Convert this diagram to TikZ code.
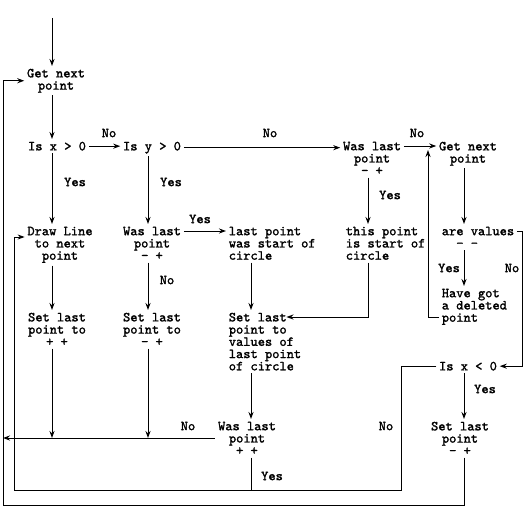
\documentclass[tikz,border=0pt]{standalone}
\usepackage{fontspec}
\setmonofont[FakeBold=1.6]{lmmono10-regular.otf}
\usetikzlibrary{arrows.meta}
\tikzset{
  box/.style={
    font=\ttfamily\fontsize{9.8}{8.7}\selectfont,
    align=center,
    anchor=north,
    inner sep=0pt,
    outer sep=2pt
  },
  lbox/.style={
    box,
    align=left,
    anchor=north west
  },
  lab/.style={
    font=\ttfamily\fontsize{9.8}{8.7}\selectfont,
    inner sep=0pt
  },
  flow/.style={
    line width=0.7pt,
    -{Stealth[length=5pt,width=3.6pt]}
  },
  wire/.style={
    line width=0.7pt
  }
}

\begin{document}
\begin{tikzpicture}[x=0.025cm,y=-0.025cm]
    \useasboundingbox (0,0) rectangle (522,524);
    % columns and rows
    \coordinate (c1) at (52,0);
    \coordinate (c2) at (148,0);
    \coordinate (c3) at (251,0);
    \coordinate (c4) at (368,0);
    \coordinate (c5) at (464,0);
    \coordinate (r1) at (0,146);
    \coordinate (r2) at (0,231);
    \coordinate (r2b) at (0,237);
    \coordinate (r3) at (0,317);
    \coordinate (r4) at (0,438);
    \coordinate (entry) at (52,18);
    \coordinate (inner) at (14,490);
    \coordinate (outer) at (3,505);
    % boxes
    \node[box] (getpt) at (56,66) {Get next\\point};
    \node[box] (isxpos) at (57,139) {Is x > 0};
    \node[box] (isypos) at (152,139) {Is y > 0};
    \node[box] (lastA) at (372,139) {Was last\\point\\- +};
    \node[box] (getnew) at (468,139) {Get next\\point};
    \node[box] (drawln) at (60,224) {Draw Line\\to next\\point};
    \node[box] (lastB) at (152,224) {Was last\\point\\- +};
    \node[lbox] (wasstart) at (226,224) {last point\\was start of\\circle};
    \node[lbox] (isstart) at (343,224) {this point\\is start of\\circle};
    \node[lbox] (values) at (439,224) {are values\\\phantom{xx}- -};
    \node[lbox] (deleted) at (439,286) {Have got\\a deleted\\point};
    \node[box] (setpp) at (57,310) {Set last\\point to\\+ +};
    \node[box] (setmp) at (152,310) {Set last\\point to\\- +};
    \node[lbox] (setcirc) at (226,310) {Set last\\point to\\values of\\last point\\of circle};
    \node[box] (isxneg) at (468,359) {Is x < 0};
    \node[box] (lastpp) at (247,419) {Was last\\point\\+ +};
    \node[box] (setneg) at (460,419) {Set last\\point\\- +};
    % labels
    \node[lab] (n1) at (109,133) {No};
    \node[lab] (n2) at (270,133) {No};
    \node[lab] (n3) at (417,133) {No};
    \node[lab] (y1) at (75,182) {Yes};
    \node[lab] (y2) at (171,182) {Yes};
    \node[lab] (y3) at (390,195) {Yes};
    \node[lab] (y4) at (200,219) {Yes};
    \node[lab] (n4) at (167,280) {No};
    \node[lab] (y5) at (449,268) {Yes};
    \node[lab] (n5) at (512,268) {No};
    \node[lab] (y6) at (485,389) {Yes};
    \node[lab] (n6) at (188,426) {No};
    \node[lab] (n7) at (386,426) {No};
    \node[lab] (y7) at (272,476) {Yes};
    % connectors
    \draw[flow] (entry) -- (getpt.north -| entry);
    \draw[flow] (getpt.south -| c1) -- (isxpos.north -| c1);
    \draw[flow] (isxpos.east) -- (isxpos.east -| isypos.west);
    \draw[flow] (isypos.east) -- (isypos.east -| lastA.west);
    \draw[flow] (lastA.east |- r1) -- (getnew.west |- r1);
    \draw[flow] (isxpos.south -| c1) -- (drawln.north -| c1);
    \draw[flow] (isypos.south -| c2) -- (lastB.north -| c2);
    \draw[flow] (lastA.south -| c4) -- (isstart.north -| c4);
    \draw[flow] (getnew.south -| c5) -- (values.north -| c5);
    \draw[flow] (lastB.east |- r2) -- (wasstart.west |- r2);
    \draw[flow] (drawln.south -| c1) -- (setpp.north -| c1);
    \draw[flow] (lastB.south -| c2) -- (setmp.north -| c2);
    \draw[flow] (wasstart.south -| c3) -- (setcirc.north -| c3);
    \draw[flow] (isstart.south -| c4) |- ([xshift=43pt]setcirc.west |- r3);
    \draw[flow] (values.south -| c5) -- (deleted.north -| c5);
    \draw[flow] (values.east |- r2) -- ++(6,0) |- (isxneg.east);
    \draw[flow] (deleted.west |- r3) -- ++(-11,0) -- ++(0,-167);
    \draw[flow] (isxneg.south -| c5) -- (setneg.north -| c5);
    \draw[flow] (isxneg.west) -| (inner -| 401,0) -- (inner) |- (drawln.west |- r2b);
    \draw[wire] (lastpp.south -| c3) -- (inner -| c3);
    \draw[flow] (setpp.south -| c1) -- (c1 |- r4);
    \draw[flow] (setmp.south -| c2) -- (c2 |- r4);
    \draw[wire] (c1 |- r4) -- (18,438);
    \draw[wire] (c1 |- r4) -- (lastpp.west |- r4);
    \draw[flow] (setcirc.south -| c3) -- (lastpp.north -| c3);
    \draw[flow] (18,438) -- (outer |- r4);
    \draw[flow] (setneg.south -| c5) |- (outer) |- (getpt.west);
\end{tikzpicture}
\end{document}
